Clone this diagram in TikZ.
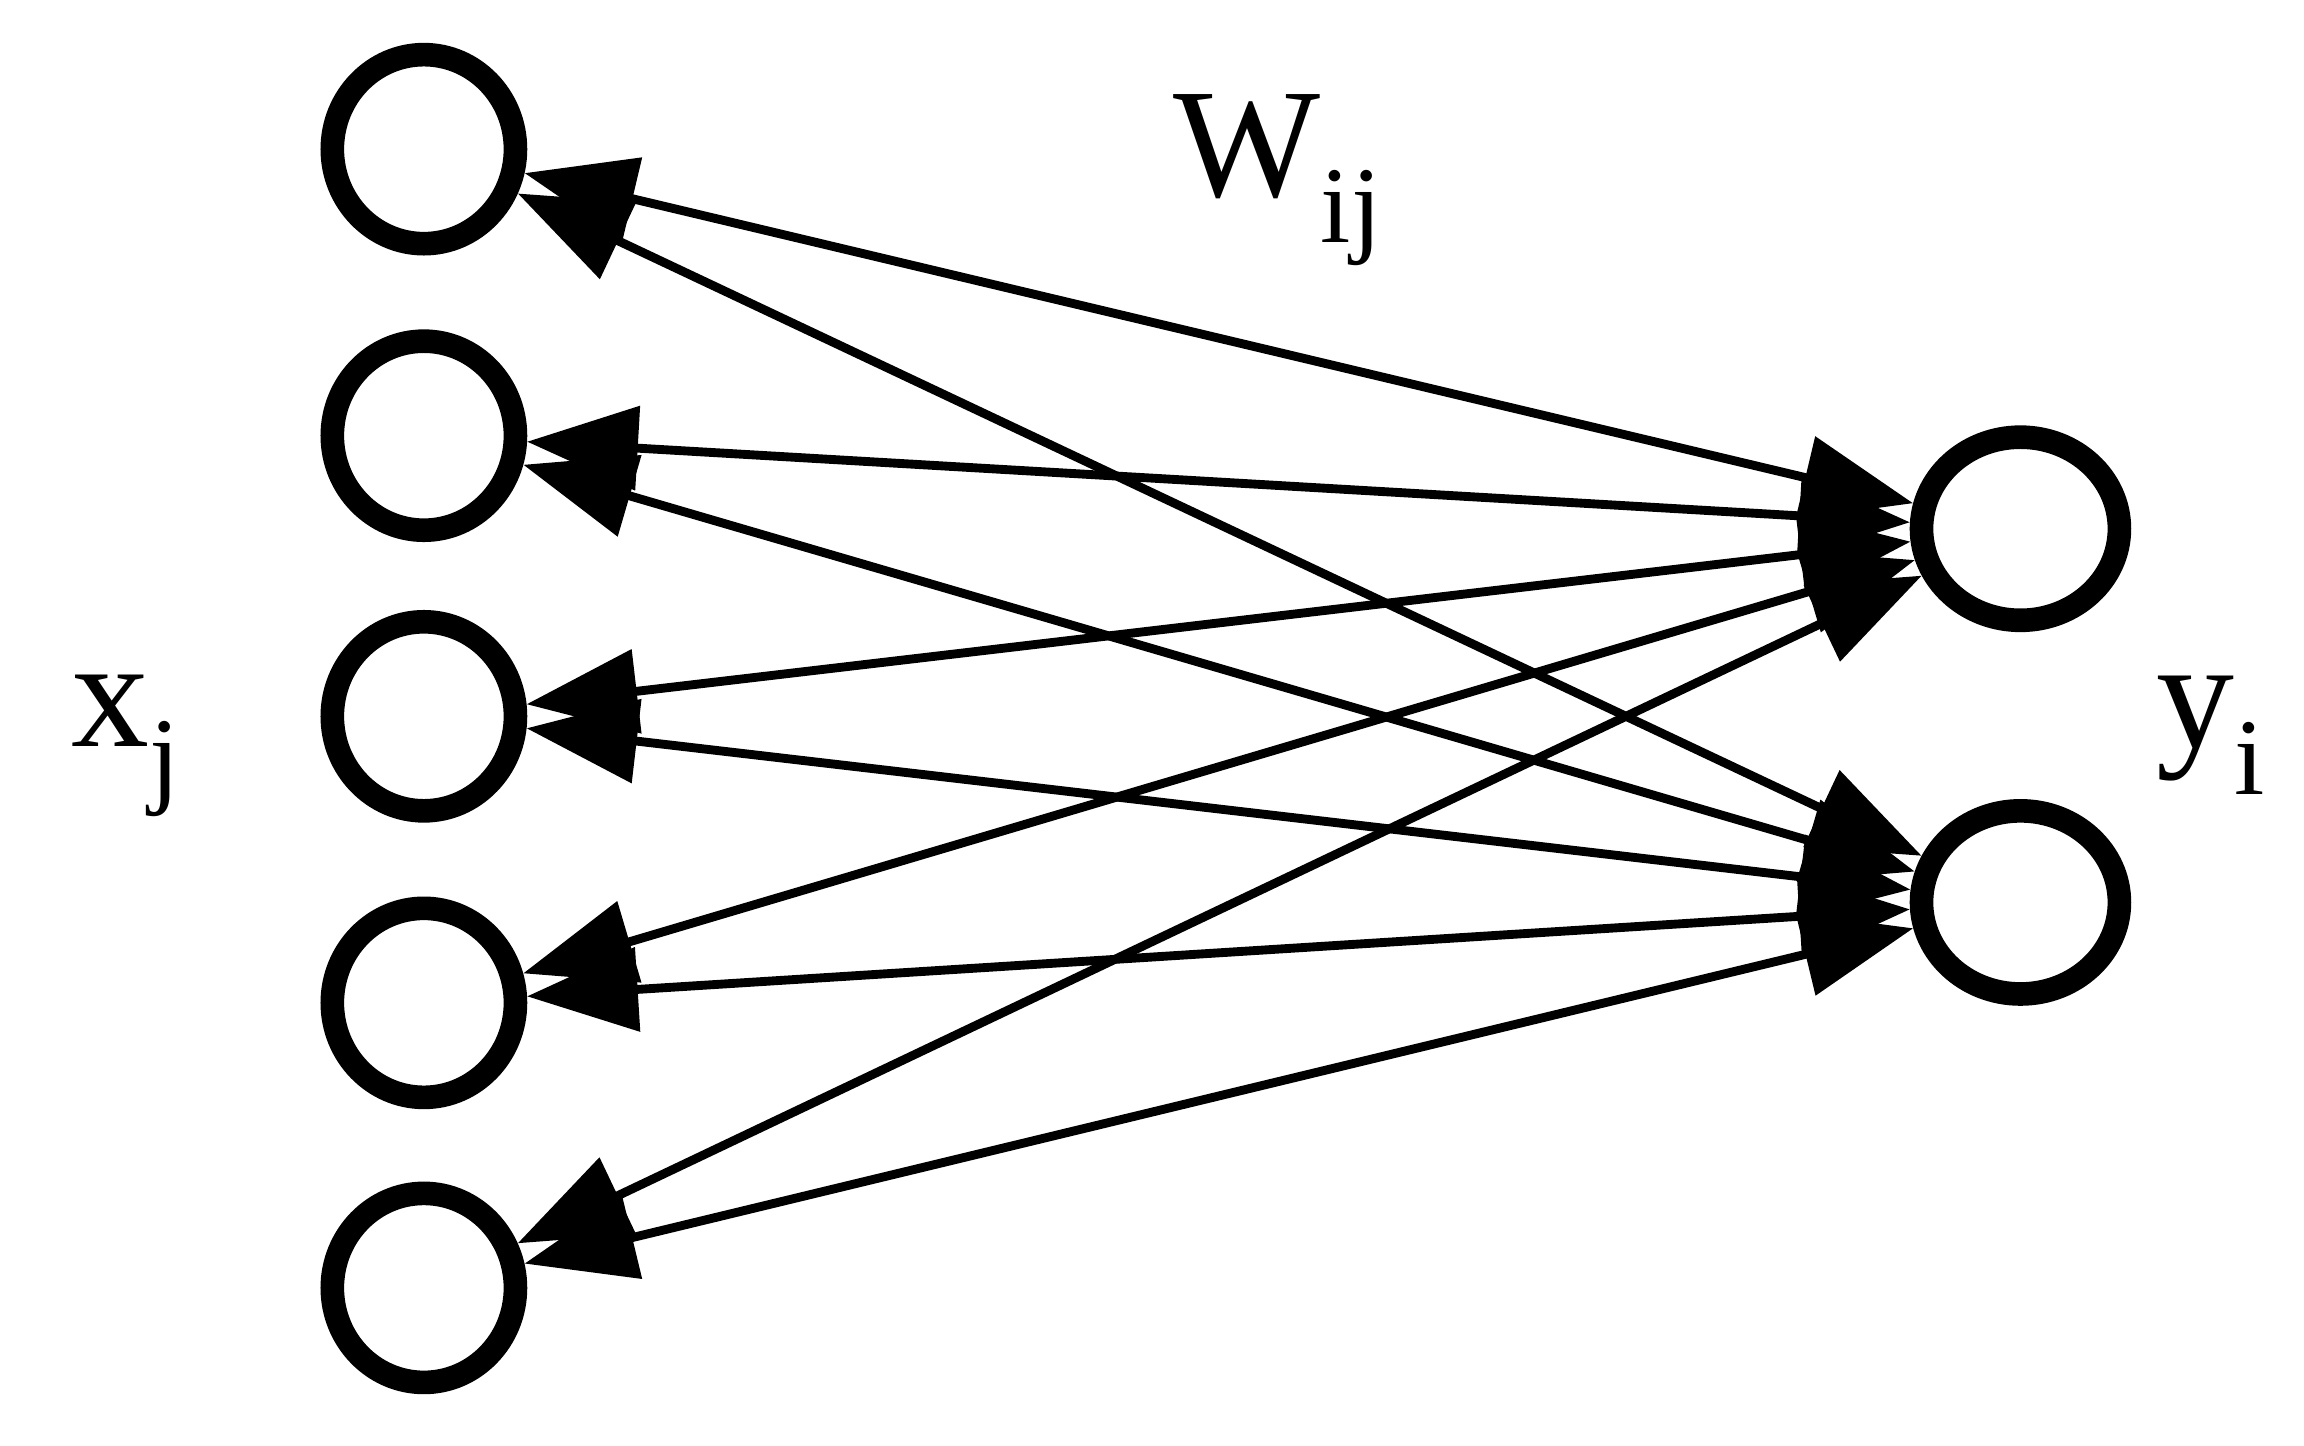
\documentclass[tikz,border=0pt]{standalone}
\usepackage{fontspec}
\setmainfont{Liberation Serif}
\usetikzlibrary{shapes.geometric,arrows.meta}
\newcommand{\lbl}[2]{\fontsize{30}{32}\selectfont #1\raisebox{-0.3em}{\fontsize{21}{23}\selectfont #2}}
\begin{document}
\begin{tikzpicture}
\tikzstyle{inp}=[draw,shape=ellipse,line width=0.16cm,minimum width=1.24cm,minimum height=1.28cm,inner sep=0pt]
\tikzstyle{outp}=[draw,shape=ellipse,line width=0.16cm,minimum width=1.34cm,minimum height=1.24cm,inner sep=0pt]
\tikzstyle{wt}=[line width=0.06cm,{Triangle[length=0.75cm,width=0.56cm]}-{Triangle[length=0.75cm,width=0.56cm]}]
\useasboundingbox (0,0) rectangle (15.6,-9.79);
\node[inp] at (2.87,-1.01) (x1) {};
\node[inp] at (2.87,-2.95) (x2) {};
\node[inp] at (2.87,-4.85) (x3) {};
\node[inp] at (2.87,-6.79) (x4) {};
\node[inp] at (2.87,-8.72) (x5) {};

\node[outp] at (13.68,-3.58) (y1) {};
\node[outp] at (13.68,-6.11) (y2) {};

\node at (0.85,-5.05) (lx) {\lbl{x}{j}};
\node at (14.97,-4.98) (ly) {\lbl{y}{i}};
\node at (8.65,-1.22) (lw) {\lbl{W}{ij}};

\draw[wt] (x1) -- (y1);
\draw[wt] (x1) -- (y2);
\draw[wt] (x2) -- (y1);
\draw[wt] (x2) -- (y2);
\draw[wt] (x3) -- (y1);
\draw[wt] (x3) -- (y2);
\draw[wt] (x4) -- (y1);
\draw[wt] (x4) -- (y2);
\draw[wt] (x5) -- (y1);
\draw[wt] (x5) -- (y2);
\end{tikzpicture}
\end{document}
